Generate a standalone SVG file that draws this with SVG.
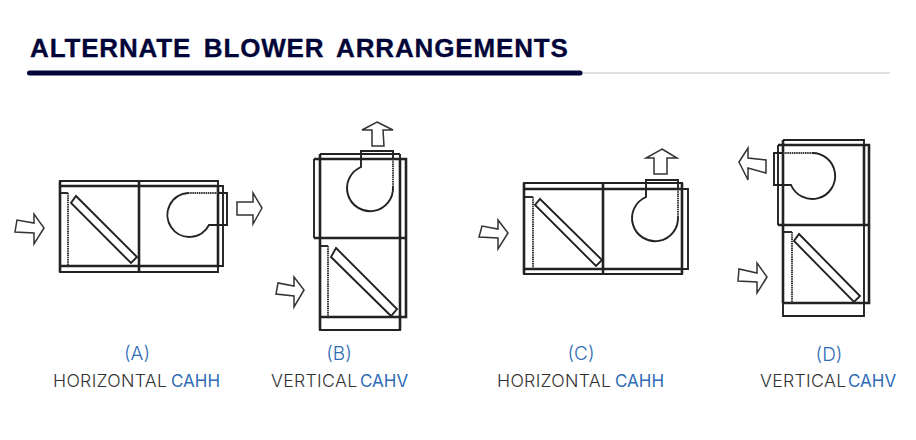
<svg xmlns="http://www.w3.org/2000/svg" width="916" height="440" viewBox="0 0 916 440">
<style>
text{font-family:"Inter","Liberation Sans",sans-serif}
.t{font-family:"Liberation Sans",Arial,sans-serif;font-size:26px;font-weight:700;fill:#020538;stroke:#020538;stroke-width:.3;letter-spacing:.85px;word-spacing:4.500px}
.l{font-size:19px;font-weight:300;fill:#2f6cb5;text-anchor:middle}
.c{font-size:17.700px;font-weight:300;fill:#333;letter-spacing:.3px}
.b{font-size:17px;fill:#2f6cb5;font-weight:400}
.h{fill:none;stroke:#222;stroke-width:2.600}
.m{fill:none;stroke:#222;stroke-width:1.900}
.d{fill:none;stroke:#333;stroke-width:1.900;stroke-dasharray:1.500 .7}
.a{fill:#fff;stroke:#333;stroke-width:1.500;stroke-linejoin:miter}
</style>
<rect width="916" height="440" fill="#fff"/>
<g id="title">
<text class="t" x="30" y="57">ALTERNATE BLOWER ARRANGEMENTS</text>
<line x1="582" y1="73" x2="890" y2="73" stroke="#c4c4c4" stroke-width="1"/>
<line x1="29.500" y1="73" x2="580" y2="73" stroke="#020538" stroke-width="5" stroke-linecap="round"/>
</g>
<g id="unit-a">
<path class="m" d="M60 181H218V272H60ZM218 186H223V266H218"/>
<path class="h" d="M60 181V272M60 186H218V266H60M139 181V272"/>
<path class="m" d="M60 193H68"/><path class="d" d="M68 193V266"/>
<path class="m" d="M76 196L137 257L131 263L71 203Z"/>
<path class="d" d="M188 193H218"/>
<path class="m" d="M218 193H227V225H209A22 22 0 1 1 188 193"/>
</g>
<g id="unit-b">
<path class="m" d="M320 154H400M320 317V330H400V317M314 159V238M400 154V159"/>
<path class="h" d="M314 159H406V317H320M320 154V330M400 159V330M314 238H406"/>
<path class="m" d="M320 246H328"/><path class="d" d="M328 246V317"/>
<path class="m" d="M336 248L397 309L391 316L331 257Z"/>
<path class="m" d="M361 159V151H393V159M361 151V167A23 23 0 1 0 393 187"/>
<path class="d" d="M393 159V187"/>
</g>
<g id="unit-c">
<path class="m" d="M524 183H682V274H524ZM682 189H688V269H682"/>
<path class="h" d="M524 183V274M524 189H682V269H524M603 183V274M682 183V274"/>
<path class="m" d="M524 197H533"/><path class="d" d="M533 197V269"/>
<path class="m" d="M540 199L602 260L596 266L535 205Z"/>
<path class="m" d="M646 189V180H678V189M646 180V197A23 23 0 1 0 678 217"/>
<path class="d" d="M678 189V217"/>
</g>
<g id="unit-d">
<path class="m" d="M783 140H864V145M783 303V316H864V303M778 145V225M864 225V303"/>
<path class="h" d="M778 145H869V303H783M783 140V303M864 145V225M778 225H869"/>
<path class="m" d="M783 232H792"/><path class="d" d="M792 232V303"/>
<path class="m" d="M799 234L860 296L854 302L794 241Z"/>
<path class="m" d="M783 153H774V185H791A23 23 0 1 0 812 153"/>
<path class="d" d="M783 153H812"/>
</g>
<g id="connectors">
<path class="a" d="M44 228L34 244V233L15 232L17 220L34 223V214Z"/>
<path class="a" d="M262 208L253 224V215H237V202H253V193Z"/>
<path class="a" d="M304 290L294 307V296L276 294L278 283L294 286V277Z"/>
<path class="a" d="M377 122L393 130H383L384 146H372L372 130H362Z"/>
<path class="a" d="M508 233L498 249V238L479 237L482 226L498 229V220Z"/>
<path class="a" d="M662 149L677 158H667V174H654V158H646Z"/>
<path class="a" d="M739 162L748 148V158L766 160V173L748 168V180Z"/>
<path class="a" d="M767 277L757 293V282L738 281L739 269L757 273V263Z"/>
</g>
<g id="labels">
<text class="l" x="137" y="360">(A)</text>
<text class="c" x="53" y="387">HORIZONTAL</text><text class="b" x="171" y="387">CAHH</text>
<text class="l" x="339" y="360">(B)</text>
<text class="c" x="271" y="387">VERTICAL</text><text class="b" x="360" y="387">CAHV</text>
<text class="l" x="581" y="360">(C)</text>
<text class="c" x="497" y="387">HORIZONTAL</text><text class="b" x="615" y="387">CAHH</text>
<text class="l" x="829" y="361">(D)</text>
<text class="c" x="760" y="387">VERTICAL</text><text class="b" x="848" y="387">CAHV</text>
</g>
</svg>
